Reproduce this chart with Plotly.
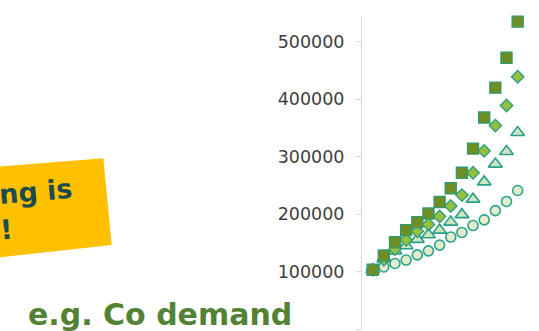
import plotly.graph_objects as go

# ---- data ----
years = [2016, 2017, 2018, 2019, 2020, 2021, 2022, 2023, 2024, 2025, 2026, 2027, 2028, 2029]
series_square = [103000, 128000, 151000, 172000, 186000, 201000, 221000, 245000, 272000, 314000, 368000, 420000, 472000, 535000]
series_diamond = [103000, 121000, 139000, 155000, 170000, 182000, 196000, 214000, 233000, 272000, 310000, 354000, 389000, 439000]
series_triangle = [103000, 122000, 136000, 145000, 156000, 164000, 172000, 186000, 199000, 226000, 256000, 287000, 309000, 342000]
series_circle = [103000, 108000, 114000, 120000, 129000, 136000, 146000, 160000, 168000, 180000, 190000, 206000, 222000, 241000]
y_ticks = [0, 100000, 200000, 300000, 400000, 500000]
sticker_lines = ["ng is", "!"]
caption = "e.g. Co demand"

# ---- layout geometry ----
W, H = 539, 331
L, R, T, B = 362, 0, 17, 2
PW, PH = W - L - R, H - T - B


def pxx(px):
    return (px - L) / PW


def pxy(py):
    return (H - B - py) / PH


fig = go.Figure()
fig.add_trace(go.Scatter(x=years, y=series_circle, mode="markers", cliponaxis=False,
                         marker=dict(symbol="circle", size=10, color="#e3edcc",
                                     line=dict(color="#2aa58c", width=1.6))))
fig.add_trace(go.Scatter(x=years, y=series_triangle, mode="markers", cliponaxis=False,
                         marker=dict(symbol="triangle-up", size=12, color="#cde6bf",
                                     line=dict(color="#2aa08a", width=1.6))))
fig.add_trace(go.Scatter(x=years, y=series_diamond, mode="markers", cliponaxis=False,
                         marker=dict(symbol="diamond", size=9.5, color="#96c13c",
                                     line=dict(color="#2e9f84", width=1.4))))
fig.add_trace(go.Scatter(x=years, y=series_square, mode="markers", cliponaxis=False,
                         marker=dict(symbol="square", size=11, color="#6f8d22",
                                     line=dict(color="#349a6c", width=1.4))))

# sticker box (rotated yellow rectangle)
box = [(-20, 168), (103.3, 158.3), (111.7, 245), (-20, 259.5)]
path = "M " + " L ".join(f"{pxx(a):.5f},{pxy(b):.5f}" for a, b in box) + " Z"
shapes = [dict(type="path", xref="paper", yref="paper", path=path,
               fillcolor="#ffc000", line=dict(width=0), layer="below")]

annotations = [
    dict(text=sticker_lines[0], xref="paper", yref="paper", x=pxx(75), y=pxy(191),
         xanchor="right", yanchor="middle", showarrow=False, textangle=-5,
         font=dict(family="DejaVu Sans", size=27, color="#1b4b4d", weight="bold")),
    dict(text=sticker_lines[1], xref="paper", yref="paper", x=pxx(15), y=pxy(229),
         xanchor="right", yanchor="middle", showarrow=False, textangle=-5,
         font=dict(family="DejaVu Sans", size=27, color="#1b4b4d", weight="bold")),
    dict(text=caption, xref="paper", yref="paper", x=pxx(26), y=pxy(314),
         xanchor="left", yanchor="middle", showarrow=False,
         font=dict(family="DejaVu Sans", size=30, color="#548235", weight="bold")),
]

fig.update_layout(
    width=W, height=H, margin=dict(l=L, r=R, t=T, b=B, autoexpand=False),
    paper_bgcolor="white", plot_bgcolor="white", showlegend=False,
    shapes=shapes, annotations=annotations,
    xaxis=dict(range=[years[0] - 0.96, years[0] - 0.96 + PW / 11.15], visible=False,
               showgrid=False, zeroline=False),
    yaxis=dict(range=[0, 543000], tickvals=y_ticks, tickformat="d", showgrid=False,
               zeroline=False, showline=True, linecolor="#d9d9d9", linewidth=1,
               ticks="outside", ticklen=5, tickcolor="#d9d9d9", ticklabelstandoff=8,
               tickfont=dict(family="DejaVu Sans", size=17.5, color="#404040")),
)

fig.write_html("out.html")
